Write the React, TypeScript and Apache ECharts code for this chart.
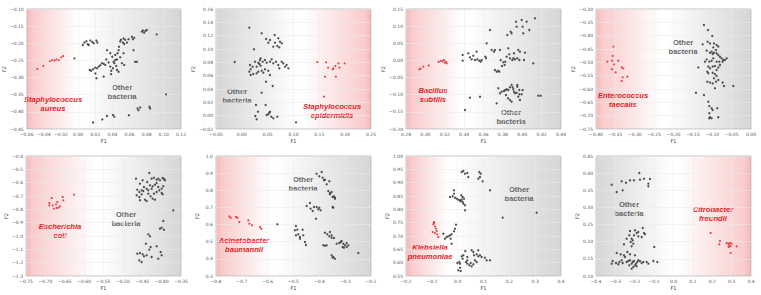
import React, { useEffect, useRef } from "react";
import * as echarts from "echarts";

// ---- Data ----
const p1Red = [[-0.0476,-0.275],[-0.0406,-0.266],[-0.0329,-0.252],[-0.0302,-0.249],[-0.0275,-0.25],[-0.0252,-0.247],[-0.0225,-0.249],[-0.0197,-0.241],[-0.0174,-0.237]];
const p1Other = [[-0.0043,-0.244],[0.0054,-0.205],[0.0073,-0.198],[0.0097,-0.194],[0.0112,-0.203],[0.0143,-0.192],[0.0166,-0.196],[0.0182,-0.2],[0.0213,-0.192],[0.0224,-0.198],[0.0124,-0.205],[0.0135,-0.278],[0.0151,-0.28],[0.0174,-0.276],[0.0197,-0.271],[0.022,-0.273],[0.024,-0.268],[0.0259,-0.264],[0.0278,-0.258],[0.0298,-0.26],[0.0317,-0.263],[0.0329,-0.247],[0.0337,-0.22],[0.0356,-0.256],[0.0375,-0.268],[0.0387,-0.28],[0.0406,-0.273],[0.0414,-0.254],[0.0433,-0.249],[0.0453,-0.247],[0.046,-0.229],[0.0472,-0.22],[0.0476,-0.21],[0.0491,-0.195],[0.0499,-0.19],[0.0522,-0.198],[0.053,-0.186],[0.0538,-0.202],[0.0549,-0.19],[0.0569,-0.198],[0.0588,-0.188],[0.0627,-0.181],[0.0638,-0.188],[0.0646,-0.22],[0.0654,-0.184],[0.0665,-0.254],[0.0453,-0.278],[0.0472,-0.283],[0.0445,-0.266],[0.0422,-0.258],[0.0398,-0.239],[0.0375,-0.229],[0.0433,-0.234],[0.0491,-0.241],[0.0511,-0.258],[0.053,-0.229],[0.0538,-0.263],[0.0685,-0.254],[0.0743,-0.166],[0.0755,-0.163],[0.077,-0.169],[0.0785,-0.164],[0.0801,-0.161],[0.0917,-0.174],[0.0298,-0.297],[0.0383,-0.29],[0.0213,-0.302],[0.0201,-0.288],[0.1025,-0.349],[0.0693,-0.39],[0.0704,-0.395],[0.0724,-0.387],[0.0832,-0.385],[0.084,-0.39],[0.0406,-0.409],[0.0422,-0.414],[0.0337,-0.412],[0.0282,-0.422],[0.0174,-0.431],[0.0592,-0.41]];

const p2Red = [[0.146,0.0805],[0.163,0.08],[0.167,0.072],[0.176,0.0695],[0.177,0.071],[0.181,0.0745],[0.187,0.0785],[0.189,0.072],[0.199,0.0785],[0.161,0.0585],[0.182,0.0585],[0.159,0.0285]];
const p2Other = [[0.0145,0.132],[-0.0139,0.0805],[0.0235,0.0995],[0.0384,0.1235],[0.0635,0.121],[0.0706,0.116],[0.0738,0.111],[0.0771,0.1085],[0.0609,0.1035],[0.0545,0.1135],[0.0468,0.115],[0.0513,0.1095],[0.0642,0.1095],[0.0687,0.1045],[0.0726,0.1025],[0.0351,0.0835],[0.0319,0.0795],[0.0339,0.0775],[0.0364,0.086],[0.0403,0.081],[0.0448,0.0835],[0.048,0.0795],[0.0545,0.081],[0.0577,0.0845],[0.0609,0.0785],[0.0661,0.081],[0.0706,0.076],[0.0726,0.071],[0.0771,0.081],[0.0803,0.0785],[0.0835,0.0735],[0.0287,0.0735],[0.021,0.0735],[0.0171,0.0695],[0.0145,0.066],[0.0171,0.061],[0.0222,0.0625],[0.0287,0.0635],[0.0319,0.066],[0.0384,0.0675],[0.0416,0.0645],[0.0448,0.0695],[0.0513,0.0675],[0.0545,0.061],[0.0468,0.051],[0.0384,0.0345],[0.0274,0.016],[0.0313,0.006],[0.0261,-0.0005],[0.0287,-0.0055],[0.0461,0.016],[0.048,0.001],[0.0513,0.002],[0.0532,0.0045],[0.0545,0.006],[0.0571,-0.0015],[0.0609,-0.004],[0.0687,-0.0015],[0.0867,0.076],[0.09,0.071],[0.1048,-0.01],[0.0158,0.076],[0.0255,0.081],[0.0364,0.075],[0.0597,0.0445]];

const p3Red = [[0.2938,-0.026],[0.2951,-0.024],[0.2979,-0.018],[0.3034,-0.015],[0.3137,-0.0045],[0.3158,-0.0016],[0.3178,-0.0026],[0.3192,0.0013],[0.3213,-0.0045],[0.322,-0.0084],[0.3199,-0.0065]];
const p3Other = [[0.3385,0.0159],[0.3385,-0.0007],[0.3443,0.0207],[0.346,0.0091],[0.3478,0.0032],[0.3495,0.0139],[0.3512,0.0013],[0.3529,0.0256],[0.3536,0.0032],[0.3557,-0.0007],[0.3571,-0.0036],[0.3581,0.0013],[0.3619,0.011],[0.3626,0.0061],[0.3632,0.0499],[0.3667,0.0888],[0.3684,0.0304],[0.3708,0.0256],[0.3718,0.0304],[0.3718,-0.0279],[0.3736,-0.0327],[0.3753,-0.0298],[0.3763,-0.0327],[0.377,0.0304],[0.3777,0.0013],[0.3791,-0.0162],[0.3804,-0.0055],[0.3818,-0.0133],[0.3825,-0.0036],[0.3839,0.011],[0.3846,0.0742],[0.3856,0.0353],[0.3866,0.0178],[0.3873,0.0061],[0.388,0.0839],[0.389,0.079],[0.3897,0.0013],[0.3908,0.0061],[0.3915,0.0207],[0.3925,0.0032],[0.3935,0.1131],[0.3942,0.0985],[0.3949,0.0061],[0.3959,0.0304],[0.397,0.0013],[0.3976,0.0256],[0.3994,0.1179],[0.4004,0.0985],[0.4011,0.079],[0.4018,0.0013],[0.4028,0.0227],[0.4045,0.1131],[0.4073,0.0888],[0.4114,-0.0084],[0.4131,0.1228],[0.3753,-0.0813],[0.377,-0.0959],[0.3787,-0.0911],[0.3811,-0.0891],[0.3825,-0.0862],[0.3839,-0.0843],[0.3856,-0.0862],[0.3873,-0.0784],[0.389,-0.0716],[0.3901,-0.0784],[0.3908,-0.0843],[0.3915,-0.0911],[0.3925,-0.0959],[0.3942,-0.094],[0.3949,-0.0716],[0.3959,-0.1056],[0.397,-0.0988],[0.3976,-0.1154],[0.3994,-0.0988],[0.4004,-0.0862],[0.3832,-0.1008],[0.3853,-0.1105],[0.3873,-0.1154],[0.389,-0.1202],[0.3736,-0.1251],[0.3564,-0.1056],[0.346,-0.1086],[0.3409,-0.1445],[0.4166,-0.1027],[0.419,-0.1027],[0.3949,-0.0765],[0.397,-0.0862]];

const p4Red = [[-0.3553,-0.441],[-0.357,-0.476],[-0.3708,-0.4975],[-0.3587,-0.494],[-0.3424,-0.494],[-0.3536,-0.5075],[-0.3338,-0.519],[-0.3295,-0.5225],[-0.3587,-0.526],[-0.3493,-0.5375],[-0.3312,-0.556],[-0.3192,-0.554],[-0.3338,-0.57]];
const p4Other = [[-0.1214,-0.36],[-0.111,-0.379],[-0.0999,-0.401],[-0.1119,-0.4225],[-0.1248,-0.4325],[-0.1059,-0.429],[-0.0956,-0.429],[-0.0887,-0.435],[-0.0973,-0.444],[-0.0904,-0.454],[-0.0844,-0.441],[-0.1145,-0.456],[-0.1059,-0.464],[-0.1016,-0.46],[-0.099,-0.469],[-0.0956,-0.464],[-0.0887,-0.466],[-0.0844,-0.4725],[-0.0801,-0.479],[-0.0758,-0.485],[-0.0715,-0.491],[-0.0672,-0.491],[-0.0629,-0.485],[-0.0732,-0.4975],[-0.0818,-0.4975],[-0.0887,-0.4975],[-0.0973,-0.485],[-0.1016,-0.494],[-0.1076,-0.4975],[-0.1145,-0.489],[-0.1188,-0.4975],[-0.1102,-0.516],[-0.1059,-0.5225],[-0.099,-0.516],[-0.093,-0.514],[-0.0887,-0.529],[-0.0844,-0.519],[-0.0801,-0.51],[-0.136,-0.519],[-0.1128,-0.535],[-0.1102,-0.541],[-0.099,-0.539],[-0.093,-0.544],[-0.0887,-0.551],[-0.0956,-0.56],[-0.0904,-0.5725],[-0.0844,-0.566],[-0.1128,-0.5725],[-0.1059,-0.576],[-0.099,-0.579],[-0.093,-0.5975],[-0.0732,-0.576],[-0.0698,-0.589],[-0.0457,-0.589],[-0.142,-0.614],[-0.1214,-0.6225],[-0.1102,-0.6475],[-0.1076,-0.664],[-0.1016,-0.6725],[-0.099,-0.679],[-0.1076,-0.691],[-0.1059,-0.706],[-0.087,-0.6725],[-0.0844,-0.706],[-0.1076,-0.71],[-0.1016,-0.71]];

const p5Red = [[-0.6838,-0.715],[-0.6898,-0.77],[-0.6812,-0.77],[-0.6726,-0.7625],[-0.6692,-0.745],[-0.6666,-0.7875],[-0.6623,-0.7775],[-0.6778,-0.795],[-0.6554,-0.7075],[-0.6537,-0.7325],[-0.6262,-0.69],[-0.6898,-0.7525],[-0.6709,-0.79]];
const p5Other = [[-0.4662,-0.57],[-0.4559,-0.6075],[-0.449,-0.5825],[-0.4318,-0.5275],[-0.4258,-0.57],[-0.4198,-0.5625],[-0.4129,-0.5775],[-0.4086,-0.57],[-0.4043,-0.5825],[-0.3974,-0.565],[-0.394,-0.5725],[-0.3914,-0.5825],[-0.4129,-0.6025],[-0.4172,-0.615],[-0.4232,-0.6275],[-0.4301,-0.62],[-0.4387,-0.645],[-0.4456,-0.6325],[-0.4516,-0.6575],[-0.4576,-0.67],[-0.4628,-0.6525],[-0.4645,-0.695],[-0.4576,-0.7075],[-0.4516,-0.6875],[-0.4473,-0.6625],[-0.443,-0.7275],[-0.4387,-0.7375],[-0.4344,-0.6825],[-0.4284,-0.7025],[-0.4232,-0.72],[-0.4198,-0.6825],[-0.4129,-0.67],[-0.406,-0.6575],[-0.4,-0.645],[-0.3957,-0.6275],[-0.4172,-0.7275],[-0.4,-0.6775],[-0.3974,-0.6875],[-0.4258,-0.645],[-0.4344,-0.6575],[-0.4559,-0.7325],[-0.437,-0.595],[-0.4086,-0.6325],[-0.3699,-0.8075],[-0.3957,-0.8875],[-0.4043,-0.945],[-0.4,-0.9375],[-0.394,-0.9525],[-0.4344,-0.9875],[-0.4301,-1.0025],[-0.4404,-1.0575],[-0.4387,-1.145],[-0.4456,-1.1525],[-0.449,-1.1375],[-0.4559,-1.1275],[-0.4628,-1.1325],[-0.4576,-1.1825],[-0.4516,-1.195],[-0.4318,-1.1025],[-0.4258,-1.1575],[-0.4086,-1.17],[-0.4026,-1.12],[-0.4,-1.145],[-0.4129,-1.0775],[-0.4284,-1.0825]];

const p6Red = [[-0.7484,0.648],[-0.7432,0.64],[-0.7226,0.644],[-0.7097,0.615],[-0.6749,0.625],[-0.671,0.605],[-0.6607,0.596],[-0.6297,0.586],[-0.6246,0.576],[-0.7174,0.64]];
const p6Other = [[-0.5626,0.6015],[-0.4904,0.5917],[-0.4852,0.5704],[-0.4943,0.5665],[-0.4904,0.5373],[-0.4814,0.5432],[-0.4749,0.5276],[-0.4646,0.5704],[-0.462,0.5373],[-0.4749,0.5179],[-0.4556,0.4985],[-0.4517,0.481],[-0.4491,0.7084],[-0.4362,0.7259],[-0.4336,0.6928],[-0.4259,0.6792],[-0.4207,0.7026],[-0.4104,0.7026],[-0.404,0.689],[-0.4001,0.6987],[-0.395,0.6831],[-0.413,0.6345],[-0.4104,0.897],[-0.4001,0.8814],[-0.3911,0.9067],[-0.3872,0.8736],[-0.382,0.8581],[-0.3782,0.862],[-0.3717,0.8348],[-0.3614,0.8523],[-0.3653,0.7959],[-0.3588,0.7842],[-0.3524,0.79],[-0.3485,0.7609],[-0.3433,0.7648],[-0.3395,0.757],[-0.3588,0.7764],[-0.3485,0.7026],[-0.3459,0.6987],[-0.3395,0.7512],[-0.3782,0.5529],[-0.3691,0.5432],[-0.3614,0.5315],[-0.3524,0.5373],[-0.3588,0.5568],[-0.3524,0.5237],[-0.3433,0.5218],[-0.333,0.4887],[-0.3227,0.4926],[-0.3175,0.4985],[-0.3137,0.5043],[-0.3072,0.4887],[-0.3008,0.479],[-0.2943,0.4926],[-0.2878,0.479],[-0.3098,0.4693],[-0.3046,0.4654],[-0.3524,0.4207],[-0.3459,0.411],[-0.3395,0.4013],[-0.3485,0.4071],[-0.3846,0.479],[-0.3782,0.477],[-0.3717,0.479],[-0.2492,0.4343],[-0.2943,0.4693]];

const p7Red = [[-0.0916,0.7525],[-0.0942,0.744],[-0.0878,0.736],[-0.0839,0.7275],[-0.0813,0.719],[-0.0968,0.715],[-0.0878,0.711],[-0.0787,0.706],[-0.0749,0.696],[-0.0916,0.749]];
const p7Other = [[0.0154,0.94],[0.0219,0.9438],[0.0283,0.9338],[0.0374,0.9363],[0.0412,0.9213],[0.0838,0.94],[0.089,0.9338],[0.0799,0.915],[0.0864,0.9213],[0.0967,0.905],[-0.0142,0.8713],[-0.0142,0.8588],[-0.0194,0.8488],[-0.0297,0.8463],[-0.0104,0.8438],[-0.0039,0.84],[0.0025,0.8363],[0.009,0.8338],[0.0116,0.83],[0.0154,0.8363],[0.0193,0.8275],[0.0219,0.8213],[0.0245,0.84],[0.0193,0.8463],[0.0141,0.8525],[0.0283,0.815],[0.0283,0.7963],[0.1251,0.8713],[0.1741,0.7688],[0.3057,0.7875],[-0.0065,0.7425],[-0.0104,0.7275],[-0.0142,0.7175],[-0.0233,0.7063],[-0.0297,0.7025],[-0.0362,0.6988],[-0.0426,0.6963],[-0.0491,0.69],[-0.0271,0.69],[-0.0233,0.6713],[-0.0555,0.7088],[0.0154,0.6238],[0.0193,0.615],[0.0219,0.6275],[0.0296,0.6438],[0.0374,0.6213],[0.0541,0.6463],[0.0606,0.64],[0.0632,0.6275],[0.0735,0.6313],[0.0799,0.6463],[0.0799,0.6238],[0.0864,0.6275],[0.0928,0.6213],[0.1057,0.6188],[0.1122,0.6088],[0.1251,0.6088],[0.0322,0.6025],[0.0374,0.5963],[0.0451,0.59],[0.0503,0.5988],[0.009,0.5963],[0.0064,0.6025],[-0.0013,0.5988],[0.009,0.5813],[0.0025,0.5713],[0.0116,0.5688],[0.0374,0.6088],[0.067,0.6088],[0.0735,0.6025],[0.0606,0.5938],[0.0541,0.5863]];

const p8Red = [[0.1917,0.2255],[0.2398,0.2021],[0.2364,0.1924],[0.2742,0.1963],[0.2828,0.1944],[0.2914,0.1963],[0.288,0.1895],[0.2949,0.1866],[0.2846,0.1846],[0.2949,0.1671],[0.3258,0.1866],[0.3,0.1944]];
const p8Other = [[-0.3192,0.3664],[-0.2934,0.345],[-0.2676,0.3761],[-0.2624,0.3499],[-0.2452,0.3722],[-0.2246,0.379],[-0.2039,0.379],[-0.1764,0.4004],[-0.1523,0.3839],[-0.1299,0.3693],[-0.1214,0.3829],[-0.1299,0.3615],[-0.173,0.381],[-0.1592,0.24],[-0.1523,0.2255],[-0.1902,0.2255],[-0.1816,0.2157],[-0.2039,0.2187],[-0.228,0.2187],[-0.216,0.2089],[-0.2418,0.2089],[-0.2211,0.1992],[-0.2108,0.2041],[-0.2074,0.1944],[-0.216,0.1866],[-0.2555,0.1924],[-0.2246,0.2313],[-0.1988,0.2332],[-0.1816,0.2284],[-0.1644,0.2138],[-0.1472,0.2216],[-0.0991,0.1846],[-0.2934,0.1671],[-0.2727,0.1633],[-0.2555,0.1603],[-0.2504,0.1555],[-0.2676,0.1458],[-0.2796,0.1409],[-0.2624,0.138],[-0.2968,0.138],[-0.314,0.1438],[-0.3192,0.136],[-0.2848,0.1341],[-0.2418,0.1409],[-0.2332,0.1438],[-0.2246,0.1458],[-0.216,0.136],[-0.2108,0.1409],[-0.2039,0.1438],[-0.1988,0.1312],[-0.2074,0.1263],[-0.1936,0.136],[-0.1867,0.1409],[-0.1816,0.1458],[-0.173,0.1438],[-0.1644,0.138],[-0.1558,0.1409],[-0.228,0.1312],[-0.216,0.1215],[-0.1902,0.1283],[-0.1386,0.1409],[-0.1299,0.136],[-0.1042,0.1438],[-0.0835,0.1409],[-0.2246,0.1633],[-0.1988,0.1603],[-0.2383,0.17]];

const speciesNames = [
  "Staphylococcus\naureus", "Staphylococcus\nepidermidis", "Bacillus\nsubtilis", "Enterococcus\nfaecalis",
  "Escherichia\ncoli", "Acinetobacter\nbaumannii", "Klebsiella\npneumoniae", "Citrobacter\nfreundii",
];
const otherName = "Other\nbacteria";
// axis ranges: [min, max, interval, decimals]
const xRanges = [[-0.06,0.12,0.02,2],[-0.05,0.25,0.05,2],[0.28,0.44,0.02,2],[-0.4,0,0.05,2],[-0.75,-0.35,0.05,2],[-0.8,-0.2,0.1,1],[-0.2,0.4,0.1,1],[-0.4,0.4,0.1,1]];
const yRanges = [[-0.45,-0.1,0.05,2],[-0.02,0.16,0.02,2],[-0.2,0.15,0.05,2],[-0.75,-0.3,0.05,2],[-1.3,-0.4,0.1,1],[0.3,1.0,0.1,1],[0.55,1.0,0.05,2],[0.1,0.45,0.05,2]];
const redSeries = [p1Red,p2Red,p3Red,p4Red,p5Red,p6Red,p7Red,p8Red];
const otherSeries = [p1Other,p2Other,p3Other,p4Other,p5Other,p6Other,p7Other,p8Other];

// ---- Layout / style ----
const gridLefts = [26, 216, 406, 596];
const gridTops = [9, 156];
const GW = 155, GH = 120;
const redOnRight = [false, true, false, false, false, false, false, true];
const whitePos = [0.33, 0.56, 0.36, 0.42, 0.45, 0.35, 0.27, 0.53];
const speciesPos = [[53,104],[332,111],[433,95],[623,100],[60,231],[244,245],[430,252],[713,214]];
const otherPos = [[122,92],[237,96],[511,117],[683,47],[126,219],[303,184],[519,194],[629,209]];

const GRAY = "#d6d6d6";
const PINK_EDGE = "#f6b6b6";
const PINK = "#f9cccc";

function gradient(i: number) {
  const w = whitePos[i];
  let stops;
  if (!redOnRight[i]) {
    stops = [
      { offset: 0, color: PINK_EDGE }, { offset: 0.04, color: PINK },
      { offset: w, color: "#ffffff" }, { offset: Math.min(w + 0.04, 1), color: "#ffffff" },
      { offset: 1, color: GRAY },
    ];
  } else {
    stops = [
      { offset: 0, color: GRAY }, { offset: w - 0.04, color: "#ffffff" },
      { offset: w, color: "#ffffff" }, { offset: 0.96, color: PINK }, { offset: 1, color: PINK_EDGE },
    ];
  }
  return { type: "linear", x: 0, y: 0, x2: 1, y2: 0, colorStops: stops };
}

const fmt = (d: number) => (v: number) => {
  const s = Math.abs(v) < 1e-9 ? (0).toFixed(d) : v.toFixed(d);
  return s.replace("-", "\u2212");
};

export default function App() {
  const ref = useRef<HTMLDivElement>(null);
  useEffect(() => {
    if (!ref.current) return;
    const chart = echarts.init(ref.current, undefined, { renderer: "svg" });
    const grid: any[] = [], xAxis: any[] = [], yAxis: any[] = [], series: any[] = [], graphic: any[] = [];
    for (let i = 0; i < 8; i++) {
      const col = i % 4, row = Math.floor(i / 4);
      grid.push({
        left: gridLefts[col], top: gridTops[row], width: GW, height: GH,
        show: true, backgroundColor: gradient(i), borderColor: "#b4b4b4", borderWidth: 0.8,
      });
      const [xmin, xmax, xint, xd] = xRanges[i];
      const [ymin, ymax, yint, yd] = yRanges[i];
      const axisCommon = {
        axisLine: { show: false }, axisTick: { show: false },
        splitLine: { show: true, lineStyle: { color: "rgba(235,235,235,0.9)", width: 0.6 } },
        nameTextStyle: { fontSize: 5, color: "#444", fontFamily: "DejaVu Sans" },
      };
      xAxis.push({
        ...axisCommon, type: "value", gridIndex: i, min: xmin, max: xmax, interval: xint,
        name: "F1", nameLocation: "middle", nameGap: 9,
        axisLabel: { fontSize: 4.5, color: "#555", margin: 3, formatter: fmt(xd), fontFamily: "DejaVu Sans", showMinLabel: true, showMaxLabel: true },
      });
      yAxis.push({
        ...axisCommon, type: "value", gridIndex: i, min: ymin, max: ymax, interval: yint,
        name: "F2", nameLocation: "middle", nameGap: 17,
        axisLabel: { fontSize: 4.5, color: "#555", margin: 3, formatter: fmt(yd), fontFamily: "DejaVu Sans", showMinLabel: true, showMaxLabel: true },
      });
      series.push({
        type: "scatter", xAxisIndex: i, yAxisIndex: i, data: otherSeries[i],
        symbol: "circle", symbolSize: 2.3, itemStyle: { color: "#333333", opacity: 0.85 }, silent: true,
      });
      series.push({
        type: "scatter", xAxisIndex: i, yAxisIndex: i, data: redSeries[i],
        symbol: "circle", symbolSize: 2.2, itemStyle: { color: "#e2373a", opacity: 0.9 }, silent: true,
      });
      graphic.push({
        type: "text", x: speciesPos[i][0], y: speciesPos[i][1], silent: true,
        style: {
          text: speciesNames[i], fill: "#e0242b", font: "italic bold 7.6px 'Liberation Sans', Arial, sans-serif",
          align: "center", verticalAlign: "middle", lineHeight: 8.6,
        },
      });
      graphic.push({
        type: "text", x: otherPos[i][0], y: otherPos[i][1], silent: true,
        style: {
          text: otherName, fill: "#666666", font: "bold 7.6px 'Liberation Sans', Arial, sans-serif",
          align: "center", verticalAlign: "middle", lineHeight: 8.6,
        },
      });
    }
    chart.setOption({ animation: false, backgroundColor: "#ffffff", grid, xAxis, yAxis, series, graphic });
    return () => chart.dispose();
  }, []);
  return <div ref={ref} style={{ position: "fixed", left: 0, top: 0, width: 761, height: 295 }} />;
}
